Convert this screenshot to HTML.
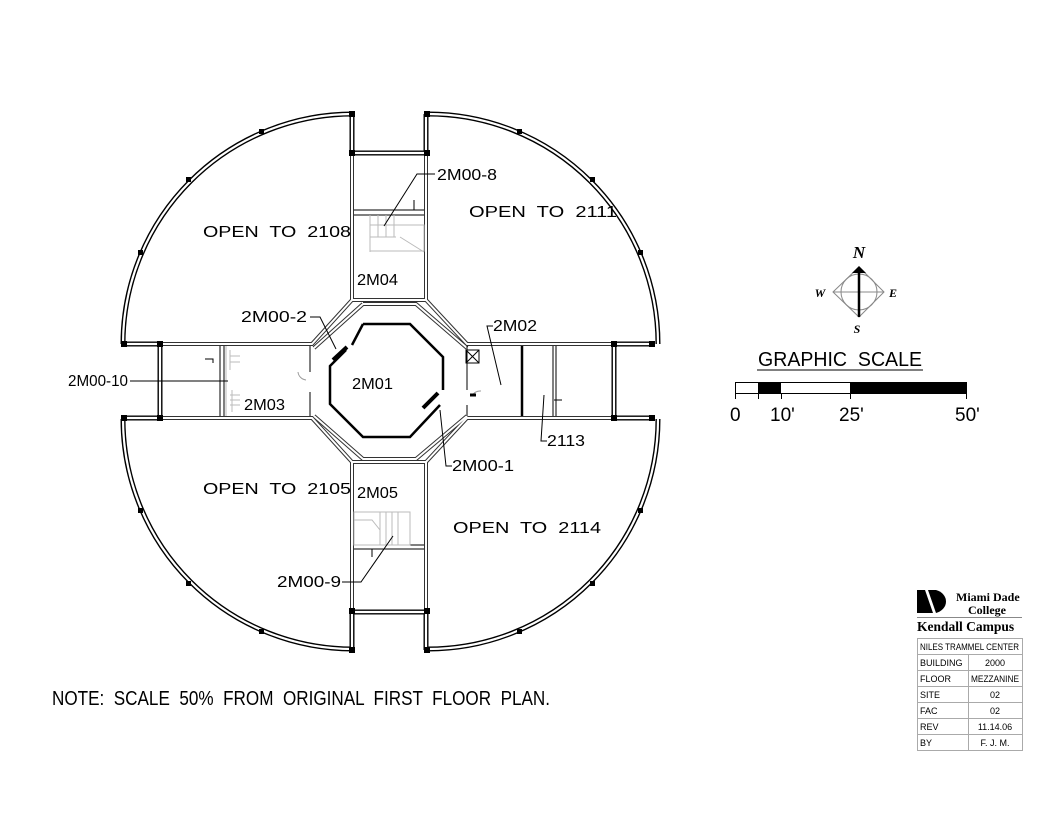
<!DOCTYPE html>
<html><head><meta charset="utf-8"><style>
html,body{margin:0;padding:0;background:#fff;}
svg{display:block;}
text{font-family:"Liberation Sans",sans-serif;fill:#000;white-space:pre;}
.s{font-family:"Liberation Serif",serif;font-weight:bold;}
</style></head><body>
<svg width="1056" height="816" viewBox="0 0 1056 816" xmlns="http://www.w3.org/2000/svg">
<defs>
<g id="walls" fill="none">
  <path d="M353,114 A230,230 0 0 0 123,344"/>
  <path d="M428,114 A230,230 0 0 1 658,344"/>
  <path d="M123,419 A230,230 0 0 0 353,649"/>
  <path d="M658,419 A230,230 0 0 1 428,649"/>
  <path d="M352,114 V153 H426 V114"/>
  <path d="M352,650 V612 H426 V650"/>
  <path d="M124,344 H160 V418 H124"/>
  <path d="M652,344 H614 V418 H652"/>
</g>
<g id="thin" fill="none">
  <path d="M352,153 V300 L312,344 H160"/>
  <path d="M426,153 V300 L467,344 H614"/>
  <path d="M352,612 V462 L312,418 H160"/>
  <path d="M426,612 V462 L467,418 H614"/>
  <path d="M352,300 H426 M352,462 H426"/>
  <path d="M363,304 H416 L467,348 M363,304 L314,348 M363,459 H416 L467,416 M363,459 L314,416"/>
</g>
</defs>
<use href="#walls" stroke="#000" stroke-width="5"/>
<use href="#walls" stroke="#fff" stroke-width="2.2"/>
<use href="#thin" stroke="#333" stroke-width="4"/>
<use href="#thin" stroke="#fff" stroke-width="2"/>

<g fill="#000">
<rect x="349" y="111" width="6" height="6"/><rect x="424" y="111" width="6" height="6"/>
<rect x="349" y="150" width="6" height="6"/><rect x="424" y="150" width="6" height="6"/>
<rect x="349" y="608" width="6" height="6"/><rect x="424" y="608" width="6" height="6"/>
<rect x="349" y="647" width="6" height="6"/><rect x="424" y="647" width="6" height="6"/>
<rect x="121" y="341" width="6" height="6"/><rect x="157" y="341" width="6" height="6"/>
<rect x="121" y="415" width="6" height="6"/><rect x="157" y="415" width="6" height="6"/>
<rect x="611" y="341" width="6" height="6"/><rect x="649" y="341" width="6" height="6"/>
<rect x="611" y="415" width="6" height="6"/><rect x="649" y="415" width="6" height="6"/>
<rect x="259" y="129" width="5" height="5"/><rect x="186" y="177" width="5" height="5"/><rect x="138" y="250" width="5" height="5"/>
<rect x="517" y="129" width="5" height="5"/><rect x="590" y="177" width="5" height="5"/><rect x="638" y="250" width="5" height="5"/>
<rect x="259" y="629" width="5" height="5"/><rect x="186" y="581" width="5" height="5"/><rect x="138" y="508" width="5" height="5"/>
<rect x="517" y="629" width="5" height="5"/><rect x="590" y="581" width="5" height="5"/><rect x="638" y="508" width="5" height="5"/>
</g>

<g stroke="#000" stroke-width="1" fill="none">
  <path d="M354,210 H424 M354,215 H424"/>
  <path d="M354,545 H424 M354,549 H424"/>
  <path d="M220,346 V416 M224,346 V416"/>
  <path d="M310,346 V372 M310,392 V416"/>
  <path d="M467,346 V390 M467,405 V416"/>
  <path d="M553,346 V416 M556,346 V416"/>
  <path d="M205,359 H213 V363"/>
  <path d="M554,400 H562"/>
  <path d="M414,200 V210"/>
  <path d="M372,549 V557"/>
  <rect x="466" y="350" width="13" height="13"/>
  <path d="M466,350 L479,363 M479,350 L466,363"/>
</g>
<path d="M522,346 V416" stroke="#000" stroke-width="2.5"/>
<g stroke="#bbb" stroke-width="1" fill="none">
  <rect x="370" y="225" width="54" height="26"/>
  <path d="M370,215 V252 M378,215 V237 M386,215 V237 M394,215 V237 M370,237 H396 M400,237 L424,252"/>
  <rect x="354" y="512" width="56" height="33"/>
  <path d="M380,512 V545 M386,512 V545 M392,512 V545 M398,512 V545 M354,520 H372 L380,530"/>
  <path d="M226,346 V416 M230,350 V370 M232,390 V412"/>
  <path d="M230,356 H240 M230,362 H240 M230,395 H240 M230,400 H240 M230,405 H240"/>
</g>
<path d="M363,324 H410 L443,357 V390 M440,405 L410,437 H363 L330,404 V366 L346,350 M352,345 L363,324" stroke="#000" stroke-width="2.5" fill="none"/>
<path d="M333,360 L347,347 M423,408 L438,393" stroke="#000" stroke-width="4"/>
<path d="M298,372 A9,9 0 0 0 306,380 M472,396 A9,9 0 0 1 481,391" stroke="#999" fill="none"/>
<path d="M470,395 H476" stroke="#000" stroke-width="3"/>

<g stroke="#000" stroke-width="1" fill="none">
  <path d="M435,174 H417 L384,226"/>
  <path d="M310,317 H320 L336,349"/>
  <path d="M493,326 H487 L501,385"/>
  <path d="M130,381 H228"/>
  <path d="M452,466 H446 L440,410"/>
  <path d="M547,441 H541 L544,395"/>
  <path d="M342,582 H361 L393,536"/>
</g>

<g font-size="16">
<text x="203" y="237" textLength="148" lengthAdjust="spacingAndGlyphs">OPEN  TO  2108</text>
<text x="469" y="217" textLength="148" lengthAdjust="spacingAndGlyphs">OPEN  TO  2111</text>
<text x="203" y="494" textLength="148" lengthAdjust="spacingAndGlyphs">OPEN  TO  2105</text>
<text x="453" y="533" textLength="148" lengthAdjust="spacingAndGlyphs">OPEN  TO  2114</text>
<text x="357" y="285" textLength="41" lengthAdjust="spacingAndGlyphs">2M04</text>
<text x="357" y="498" textLength="41" lengthAdjust="spacingAndGlyphs">2M05</text>
<text x="352" y="389" textLength="41" lengthAdjust="spacingAndGlyphs">2M01</text>
<text x="244" y="410" textLength="41" lengthAdjust="spacingAndGlyphs">2M03</text>
<text x="493" y="331" textLength="44" lengthAdjust="spacingAndGlyphs">2M02</text>
<text x="437" y="180" textLength="60" lengthAdjust="spacingAndGlyphs">2M00-8</text>
<text x="241" y="322" textLength="66" lengthAdjust="spacingAndGlyphs">2M00-2</text>
<text x="68" y="386" textLength="60" lengthAdjust="spacingAndGlyphs">2M00-10</text>
<text x="452" y="471" textLength="62" lengthAdjust="spacingAndGlyphs">2M00-1</text>
<text x="547" y="446" textLength="38" lengthAdjust="spacingAndGlyphs">2113</text>
<text x="277" y="587" textLength="64" lengthAdjust="spacingAndGlyphs">2M00-9</text>
</g>
<text x="52" y="705" font-size="20" textLength="498" lengthAdjust="spacingAndGlyphs">NOTE:  SCALE  50%  FROM  ORIGINAL  FIRST  FLOOR  PLAN.</text>

<g stroke="#888" stroke-width="1" fill="none">
  <path d="M833,292 L859,267 L884,292 L859,317 Z"/>
  <circle cx="859" cy="292" r="18"/>
  <path d="M833,292 H884"/>
</g>
<path d="M852,273 L859,266 L866,273 Z" fill="#000"/>
<path d="M859,268 V317" stroke="#000" stroke-width="2.5"/>
<text class="s" x="859" y="258" font-size="17" font-style="italic" text-anchor="middle">N</text>
<text class="s" x="820" y="297" font-size="12" font-style="italic" text-anchor="middle">W</text>
<text class="s" x="893" y="297" font-size="12" font-style="italic" text-anchor="middle">E</text>
<text class="s" x="857" y="333" font-size="12" font-style="italic" text-anchor="middle">S</text>

<text x="758" y="366" font-size="20" textLength="164" lengthAdjust="spacingAndGlyphs">GRAPHIC  SCALE</text>
<path d="M757,370 H923" stroke="#000" stroke-width="1"/>
<rect x="735.5" y="382.5" width="231" height="11" fill="#fff" stroke="#000"/>
<rect x="758" y="382" width="23" height="12" fill="#000"/>
<rect x="850" y="382" width="117" height="12" fill="#000"/>
<path d="M735.5,394 V399 M758.5,394 V399 M781.5,394 V399 M850.5,394 V399 M966.5,394 V399" stroke="#000"/>
<g font-size="19">
<text x="730" y="421">0</text>
<text x="770" y="421">10'</text>
<text x="839" y="421">25'</text>
<text x="955" y="421">50'</text>
</g>

<path d="M917,590 H925 L933,613 H917 Z" fill="#000"/>
<path d="M928,590 H936 A14,12 0 0 1 936,613 L928,590 Z" fill="#000"/>
<text class="s" x="956" y="601" font-size="12">Miami Dade</text>
<text class="s" x="968" y="614" font-size="12">College</text>
<path d="M917,617.5 H1022" stroke="#888"/>
<text class="s" x="917" y="631" font-size="13.5">Kendall Campus</text>
<g stroke="#aaa" stroke-width="1" fill="none">
  <rect x="917.5" y="638.5" width="105" height="112"/>
  <path d="M917,654.5 H1023 M917,670.5 H1023 M917,686.5 H1023 M917,702.5 H1023 M917,718.5 H1023 M917,734.5 H1023 M968.5,654 V751"/>
</g>
<g font-size="9">
<text x="920" y="650" textLength="99" lengthAdjust="spacingAndGlyphs">NILES TRAMMEL CENTER</text>
<text x="920" y="666">BUILDING</text><text x="995" y="666" text-anchor="middle">2000</text>
<text x="920" y="682">FLOOR</text><text x="995" y="682" text-anchor="middle" textLength="48" lengthAdjust="spacingAndGlyphs">MEZZANINE</text>
<text x="920" y="698">SITE</text><text x="995" y="698" text-anchor="middle">02</text>
<text x="920" y="714">FAC</text><text x="995" y="714" text-anchor="middle">02</text>
<text x="920" y="730">REV</text><text x="995" y="730" text-anchor="middle">11.14.06</text>
<text x="920" y="746">BY</text><text x="995" y="746" text-anchor="middle">F. J. M.</text>
</g>
</svg>
</body></html>
